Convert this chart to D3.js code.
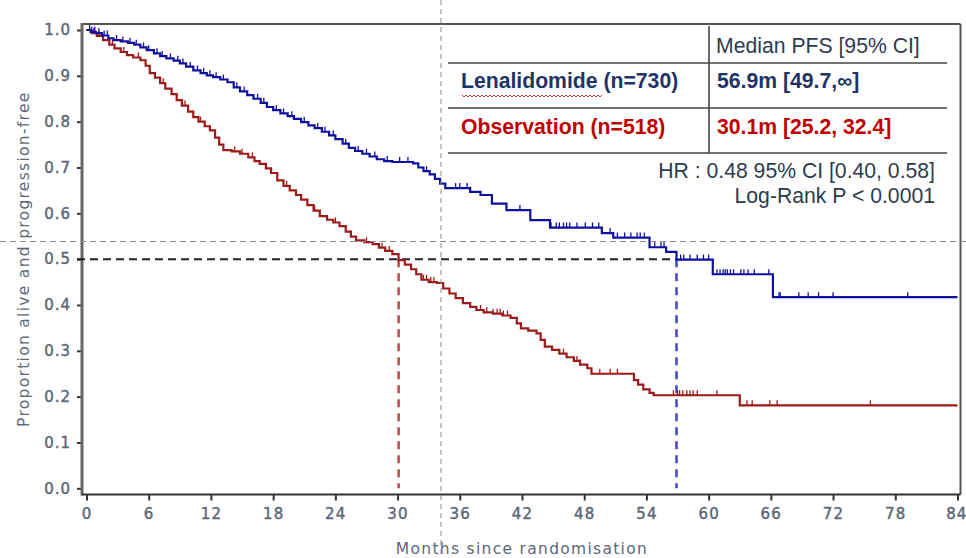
<!DOCTYPE html>
<html>
<head>
<meta charset="utf-8">
<script src="https://cdn.jsdelivr.net/npm/d3@7"></script>
<style>
  html, body { margin: 0; padding: 0; background: #ffffff; }
  svg { display: block; }
</style>
</head>
<body>
<svg id="chart" width="966" height="558"></svg>
<script>
// ---------------- DATA ----------------
const xTicks = [0, 6, 12, 18, 24, 30, 36, 42, 48, 54, 60, 66, 72, 78, 84];
const yTicks = [0.0, 0.1, 0.2, 0.3, 0.4, 0.5, 0.6, 0.7, 0.8, 0.9, 1.0];

const lenaTimes = [0, 0.4, 0.9, 1.5, 2.1, 2.6, 3.3, 4.0, 4.6, 5.2, 5.8, 6.5, 7.1, 7.7, 8.4, 9.0, 9.6, 10.3, 11.0, 11.6,
  12.2, 12.9, 13.6, 14.2, 14.8, 15.5, 16.1, 16.8, 17.4, 18.0, 18.7, 19.4, 20.0, 20.7, 21.4, 22.0, 22.7, 23.4, 24.0, 24.7,
  25.3, 25.9, 26.6, 27.3, 28.0, 28.7, 29.5, 31.5, 32.0, 32.5, 33.1, 33.6, 34.1, 34.6, 37.0, 38.0, 39.1, 40.5, 42.8, 44.7,
  49.7, 50.8, 54.3, 55.9, 56.9, 60.4, 66.2, 84];
const lenaSurv = [1.000, 0.996, 0.993, 0.988, 0.982, 0.978, 0.975, 0.972, 0.968, 0.962, 0.956, 0.949, 0.943, 0.938, 0.933, 0.927, 0.920, 0.912, 0.906, 0.901,
  0.897, 0.892, 0.886, 0.875, 0.866, 0.858, 0.850, 0.841, 0.832, 0.825, 0.818, 0.812, 0.806, 0.799, 0.792, 0.786, 0.778, 0.770, 0.762, 0.752,
  0.743, 0.736, 0.730, 0.724, 0.718, 0.714, 0.712, 0.709, 0.700, 0.692, 0.685, 0.675, 0.665, 0.655, 0.647, 0.640, 0.621, 0.607, 0.585, 0.569,
  0.557, 0.547, 0.526, 0.516, 0.499, 0.467, 0.417, 0.417];
const lenaCensor = [0.3, 0.5, 0.8, 1.2, 1.7, 2.0, 2.9, 3.5, 4.2, 4.8, 5.5, 6.0, 6.8, 7.3, 8.1, 8.8, 9.3, 10.0, 10.7, 11.3, 11.9, 12.5, 13.2,
  14.5, 15.2, 16.5, 17.1, 18.3, 19.0, 19.8, 21.0, 22.3, 23.0, 23.8, 25.0, 26.2, 27.0, 27.8, 29.0, 30.2, 31.0, 32.8,
  35.6, 36.0, 36.7, 37.0, 41.8, 44.8, 45.3, 45.6, 46.0, 46.3, 46.6, 47.3, 48.1, 48.8, 49.4,
  50.5, 51.2, 51.9, 52.5, 53.1, 53.4, 53.8, 54.8, 55.4, 55.7, 57.3, 57.6, 58.2, 58.9, 59.5, 60.0,
  60.8, 61.1, 61.4, 61.6, 61.8, 62.1, 62.4, 63.1, 63.4, 63.8, 64.4, 65.8, 66.8, 66.9, 68.7, 69.6, 70.6, 72.0, 79.2];

const obsTimes = [0, 0.5, 1.0, 1.6, 2.2, 2.7, 3.3, 3.9, 4.5, 5.2, 5.7, 6.1, 6.6, 7.1, 7.6, 8.2, 8.7, 9.2, 9.8, 10.3,
  10.8, 11.4, 11.9, 12.4, 12.8, 13.2, 14.0, 14.8, 15.6, 16.2, 16.7, 17.3, 17.8, 18.4, 19.0, 19.6, 20.2, 20.7, 21.3, 21.9,
  22.5, 23.2, 23.8, 24.4, 25.0, 25.5, 26.0, 26.8, 27.6, 28.2, 28.8, 29.5, 30.1, 30.7, 31.3, 31.8, 32.3, 33.0, 33.8, 34.4,
  35.0, 35.6, 36.3, 37.0, 37.6, 38.3, 39.2, 40.1, 40.9, 41.5, 41.9, 42.6, 43.4, 43.8, 44.2, 44.9, 45.6, 46.3, 47.0, 47.6,
  48.3, 48.7, 52.8, 53.2, 53.7, 54.3, 54.7, 63.0, 84];
const obsSurv = [1.000, 0.993, 0.987, 0.978, 0.968, 0.960, 0.952, 0.945, 0.940, 0.934, 0.922, 0.906, 0.896, 0.884, 0.872, 0.860, 0.847, 0.835, 0.822, 0.810,
  0.800, 0.790, 0.781, 0.765, 0.750, 0.738, 0.735, 0.730, 0.722, 0.714, 0.708, 0.698, 0.688, 0.672, 0.660, 0.650, 0.640, 0.630, 0.618, 0.606,
  0.594, 0.586, 0.580, 0.572, 0.560, 0.549, 0.541, 0.537, 0.533, 0.525, 0.518, 0.511, 0.498, 0.488, 0.478, 0.467, 0.455, 0.450, 0.448, 0.436,
  0.425, 0.415, 0.404, 0.396, 0.389, 0.384, 0.381, 0.377, 0.372, 0.360, 0.349, 0.344, 0.338, 0.324, 0.309, 0.302, 0.294, 0.286, 0.278, 0.270,
  0.262, 0.250, 0.236, 0.226, 0.216, 0.208, 0.203, 0.181, 0.181];
const obsCensor = [0.7, 1.2, 2.5, 3.6, 5.0, 7.4, 9.5, 11.0, 14.3, 15.0, 16.0, 19.3, 22.0, 24.0, 27.0, 28.5, 29.2, 32.5, 32.8, 33.2, 33.5,
  38.0, 38.6, 39.2, 39.6, 39.9, 40.2, 40.6, 46.0, 47.3, 47.6, 49.5, 50.5, 51.2, 56.6, 57.0, 57.2, 57.5, 57.9, 58.2, 58.5, 58.9, 60.8,
  63.7, 64.2, 65.9, 66.6, 75.6];

const medianLena = 56.9;
const medianObs = 30.1;

const tableHeader = "Median PFS [95% CI]";
const groupLabels = ["Lenalidomide (n=730)", "Observation (n=518)"];
const groupMedians = ["56.9m [49.7,\u221e]", "30.1m [25.2, 32.4]"];
const statLines = ["HR : 0.48 95% CI [0.40, 0.58]", "Log-Rank P < 0.0001"];
const xTitle = "Months since randomisation";
const yTitle = "Proportion alive and progression-free";

// ---------------- DRAW ----------------
const svg = d3.select("#chart");
svg.append("rect").attr("width", 966).attr("height", 558).attr("fill", "#ffffff");

const x = d3.scaleLinear().domain([0, 84]).range([86.5, 957.5]);
const y = d3.scaleLinear().domain([0, 1]).range([488.3, 30]);

const axisLeftX = 82, axisBottomY = 494.5, frameTop = 24, frameRight = 960.5;
const tickColor = "#5d6878";
const tickFont = "'DejaVu Sans', Verdana, sans-serif";

// y axis
const yAxis = svg.append("g").attr("transform", `translate(${axisLeftX},0)`)
  .call(d3.axisLeft(y).tickValues(yTicks).tickFormat(d3.format(".1f")).tickSize(5).tickPadding(6));
yAxis.select(".domain").remove();
yAxis.selectAll(".tick line").attr("stroke", "#333").attr("stroke-width", 2);
yAxis.selectAll(".tick text").attr("fill", tickColor).attr("stroke", tickColor).attr("stroke-width", 0.45)
  .attr("font-family", tickFont).attr("font-size", 15).style("letter-spacing", "1px");

// x axis
const xAxis = svg.append("g").attr("transform", `translate(0,${axisBottomY})`)
  .call(d3.axisBottom(x).tickValues(xTicks).tickFormat(d3.format("d")).tickSize(6).tickPadding(8));
xAxis.select(".domain").remove();
xAxis.selectAll(".tick line").attr("stroke", "#333").attr("stroke-width", 2);
xAxis.selectAll(".tick text").attr("fill", tickColor).attr("stroke", tickColor).attr("stroke-width", 0.45)
  .attr("font-family", tickFont).attr("font-size", 15).style("letter-spacing", "1.2px");
// keep the last label inside the window
xAxis.selectAll(".tick text").filter(d => d === 84).attr("text-anchor", "end").attr("dx", "9px").style("letter-spacing", "0.8px");

// frame
svg.append("line").attr("x1", axisLeftX).attr("x2", frameRight).attr("y1", frameTop).attr("y2", frameTop)
  .attr("stroke", "#555").attr("stroke-width", 2);
svg.append("line").attr("x1", frameRight).attr("x2", frameRight).attr("y1", frameTop).attr("y2", axisBottomY)
  .attr("stroke", "#555").attr("stroke-width", 2);
svg.append("line").attr("x1", axisLeftX).attr("x2", axisLeftX).attr("y1", frameTop - 1).attr("y2", axisBottomY + 1)
  .attr("stroke", "#666").attr("stroke-width", 3);
svg.append("line").attr("x1", axisLeftX).attr("x2", frameRight).attr("y1", axisBottomY).attr("y2", axisBottomY)
  .attr("stroke", "#333").attr("stroke-width", 2);

// axis titles
svg.append("text").attr("x", (x(0) + x(84)) / 2).attr("y", 554).attr("text-anchor", "middle")
  .attr("font-family", tickFont).attr("font-size", 15.5).attr("fill", tickColor)
  .style("letter-spacing", "1.3px").text(xTitle);
svg.append("text").attr("transform", `translate(29,${(y(0) + y(1)) / 2}) rotate(-90)`).attr("text-anchor", "middle")
  .attr("font-family", tickFont).attr("font-size", 15.5).attr("fill", tickColor)
  .style("letter-spacing", "1.3px").text(yTitle);

// median reference lines
svg.append("line").attr("x1", 77).attr("x2", x(medianLena)).attr("y1", y(0.5)).attr("y2", y(0.5))
  .attr("stroke", "#222").attr("stroke-width", 2).attr("stroke-dasharray", "8,5");
svg.append("line").attr("x1", x(medianObs)).attr("x2", x(medianObs)).attr("y1", y(0.5)).attr("y2", y(0))
  .attr("stroke", "#b84a4a").attr("stroke-width", 2.5).attr("stroke-dasharray", "8,6");
svg.append("line").attr("x1", x(medianLena)).attr("x2", x(medianLena)).attr("y1", y(0.5)).attr("y2", y(0))
  .attr("stroke", "#4545c8").attr("stroke-width", 2.5).attr("stroke-dasharray", "8,6");

// curves
function drawKM(times, surv, censor, color) {
  const pts = times.map((t, i) => [t, surv[i]]);
  const line = d3.line().x(d => x(d[0])).y(d => y(d[1])).curve(d3.curveStepAfter);
  svg.append("path").datum(pts).attr("d", line).attr("fill", "none")
    .attr("stroke", color).attr("stroke-width", 2.2);
  const survAt = t => { let v = surv[0]; for (let i = 0; i < times.length; i++) { if (times[i] <= t) v = surv[i]; } return v; };
  svg.append("g").selectAll("line").data(censor).join("line")
    .attr("x1", d => x(d)).attr("x2", d => x(d))
    .attr("y1", d => y(survAt(d)) - 5).attr("y2", d => y(survAt(d)))
    .attr("stroke", color).attr("stroke-width", 1.3);
}
drawKM(obsTimes, obsSurv, obsCensor, "#9c1a1a");
drawKM(lenaTimes, lenaSurv, lenaCensor, "#10109e");

// table
const tblColor = "#444";
const tFont = "'Liberation Sans', Arial, sans-serif";
const tSize = 21.2;
svg.append("line").attr("x1", 709).attr("x2", 709).attr("y1", 26).attr("y2", 153).attr("stroke", tblColor).attr("stroke-width", 1.6);
[63, 108, 153].forEach(yy => {
  svg.append("line").attr("x1", 448).attr("x2", 947).attr("y1", yy).attr("y2", yy).attr("stroke", tblColor).attr("stroke-width", 1.6);
});
svg.append("text").attr("x", 716).attr("y", 53).attr("font-family", tFont).attr("font-size", tSize)
  .attr("fill", "#2e3b4e").text(tableHeader);
const rowColors = ["#1f3466", "#c00000"];
const rowY = [88, 134];
groupLabels.forEach((t, i) => {
  svg.append("text").attr("x", 461).attr("y", rowY[i]).attr("font-family", tFont).attr("font-size", tSize)
    .attr("font-weight", "bold").attr("fill", rowColors[i]).text(t);
  svg.append("text").attr("x", 717).attr("y", rowY[i]).attr("font-family", tFont).attr("font-size", tSize)
    .attr("font-weight", "bold").attr("fill", rowColors[i]).text(groupMedians[i]);
});
// spell-check squiggle
let sq = "M462,95";
for (let xx = 462; xx < 602; xx += 2) sq += ` L${xx + 2},${((xx - 462) / 2) % 2 === 0 ? 97 : 95}`;
svg.append("path").attr("d", sq).attr("fill", "none").attr("stroke", "#e03030").attr("stroke-width", 1);

statLines.forEach((t, i) => {
  svg.append("text").attr("x", 935).attr("y", [178, 203][i]).attr("text-anchor", "end")
    .attr("font-family", tFont).attr("font-size", tSize).attr("fill", "#2e3b4e").text(t);
});

// guide lines
svg.append("line").attr("x1", 441).attr("x2", 441).attr("y1", 0).attr("y2", 558)
  .attr("stroke", "#8a8a8a").attr("stroke-width", 1).attr("stroke-dasharray", "5,4");
svg.append("line").attr("x1", 0).attr("x2", 966).attr("y1", 241.5).attr("y2", 241.5)
  .attr("stroke", "#8a8a8a").attr("stroke-width", 1).attr("stroke-dasharray", "6,4");
</script>
</body>
</html>
